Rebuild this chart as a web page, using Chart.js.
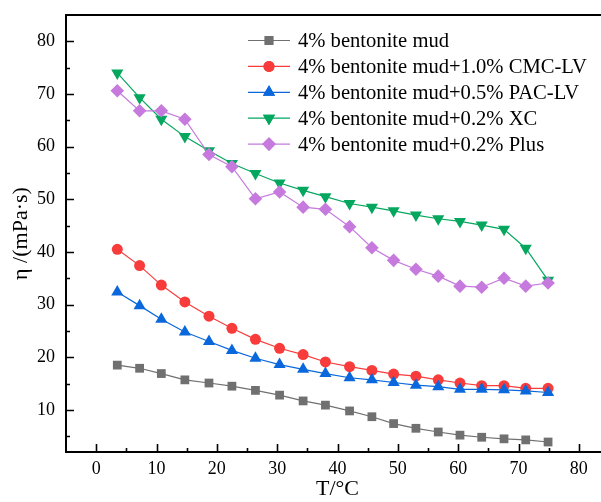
<!DOCTYPE html>
<html>
<head>
<meta charset="utf-8">
<title>Viscosity vs temperature</title>
<script src="https://cdn.jsdelivr.net/npm/chart.js@4.4.1/dist/chart.umd.min.js"></script>
<style>
  html, body { margin: 0; padding: 0; background: #fff; overflow: hidden; }
  #wrap { width: 616px; height: 502px; }
</style>
</head>
<body>
<div id="wrap"><canvas id="viscChart" width="616" height="502"></canvas></div>
<script>
// temperature, °C
const temps = [3.5, 7.2, 10.8, 14.7, 18.7, 22.5, 26.4, 30.4, 34.3, 38.0, 42.0, 45.7, 49.3, 53.0, 56.7, 60.3, 63.9, 67.6, 71.2, 74.9];

// apparent viscosity, mPa·s
const baseMud = [18.5, 17.9, 16.9, 15.7, 15.1, 14.5, 13.7, 12.8, 11.7, 10.9, 9.8, 8.7, 7.4, 6.5, 5.8, 5.2, 4.8, 4.5, 4.3, 3.9];
const cmcMud = [40.5, 37.4, 33.7, 30.5, 27.8, 25.5, 23.4, 21.7, 20.5, 19.1, 18.2, 17.5, 16.8, 16.4, 15.7, 15.1, 14.6, 14.6, 14.1, 14.1];
const pacMud = [32.4, 29.8, 27.2, 24.8, 23.0, 21.3, 19.8, 18.6, 17.7, 16.9, 16.1, 15.7, 15.2, 14.7, 14.4, 13.9, 13.9, 13.8, 13.6, 13.3];
const xcMud = [74.0, 69.3, 65.2, 61.9, 59.2, 56.8, 54.9, 53.1, 51.7, 50.5, 49.2, 48.5, 47.8, 47.0, 46.3, 45.8, 45.1, 44.3, 40.7, 34.6];
const plusMud = [70.6, 66.8, 66.8, 65.2, 58.5, 56.2, 50.1, 51.4, 48.5, 48.1, 44.8, 40.8, 38.4, 36.7, 35.4, 33.5, 33.3, 35.0, 33.5, 34.1];

const seriesNames = [
  '4% bentonite mud',
  '4% bentonite mud+1.0% CMC-LV',
  '4% bentonite mud+0.5% PAC-LV',
  '4% bentonite mud+0.2% XC',
  '4% bentonite mud+0.2% Plus'
];

const xTicks = [0, 10, 20, 30, 40, 50, 60, 70, 80];
const yTicks = [10, 20, 30, 40, 50, 60, 70, 80];

const FONT = "'Liberation Serif', 'Times New Roman', serif";

function makeSeries(label, values, color, shape, radius, rotation, order) {
  return {
    label: label,
    data: temps.map((t, i) => ({ x: t, y: values[i] })),
    borderColor: color,
    backgroundColor: color,
    borderWidth: 1.2,
    pointStyle: shape,
    pointRadius: radius,
    pointRotation: rotation,
    pointBorderWidth: 0,
    pointBackgroundColor: color,
    tension: 0,
    order: order
  };
}

const datasets = [
  makeSeries(seriesNames[0], baseMud, '#707070', 'rect', 6.2, 0, 5),
  makeSeries(seriesNames[1], cmcMud, '#f83c3c', 'circle', 5.5, 0, 4),
  makeSeries(seriesNames[2], pacMud, '#0a68dc', 'triangle', 7, 0, 3),
  makeSeries(seriesNames[3], xcMud, '#05a65e', 'triangle', 7, 180, 2),
  makeSeries(seriesNames[4], plusMud, '#c67ade', 'rectRot', 6.8, 0, 1)
];

// box frame with inward major/minor ticks
const frameTicks = {
  id: 'frameTicks',
  afterDraw(chart) {
    const { ctx, chartArea: a, scales: { x, y } } = chart;
    ctx.save();
    ctx.strokeStyle = '#000';
    ctx.lineWidth = 2;
    ctx.beginPath();
    ctx.moveTo(a.right, a.top);
    ctx.lineTo(a.left, a.top);
    ctx.lineTo(a.left, a.bottom);
    ctx.lineTo(a.right, a.bottom);
    ctx.stroke();

    ctx.lineWidth = 1.6;
    ctx.beginPath();
    for (let v = x.min + 5; v < x.max; v += 5) {
      const px = Math.round(x.getPixelForValue(v)) + 0.5;
      const len = v % 10 === 0 ? 8 : 4;
      ctx.moveTo(px, a.bottom);
      ctx.lineTo(px, a.bottom - len);
    }
    for (let v = 5; v < y.max; v += 5) {
      const py = Math.round(y.getPixelForValue(v)) + 0.5;
      const len = v % 10 === 0 ? 8 : 4;
      ctx.moveTo(a.left, py);
      ctx.lineTo(a.left + len, py);
    }
    ctx.stroke();
    ctx.restore();
  }
};

// legend block in the upper right of the plot
const boxLegend = {
  id: 'boxLegend',
  afterDraw(chart) {
    const { ctx } = chart;
    const x0 = 248, x1 = 290, tx = 298, top = 40.5, step = 25.9;
    ctx.save();
    ctx.font = '20.6px ' + FONT;
    ctx.textBaseline = 'middle';
    ctx.fillStyle = '#000';
    chart.data.datasets.forEach((ds, i) => {
      const yy = top + i * step;
      ctx.strokeStyle = ds.borderColor;
      ctx.lineWidth = 1.2;
      ctx.beginPath();
      ctx.moveTo(x0, yy);
      ctx.lineTo(x1, yy);
      ctx.stroke();
      ctx.fillStyle = ds.pointBackgroundColor;
      Chart.helpers.drawPoint(ctx, {
        pointStyle: ds.pointStyle,
        radius: ds.pointRadius,
        rotation: ds.pointRotation,
        borderWidth: 0
      }, (x0 + x1) / 2, yy);
      ctx.fill();
      ctx.fillStyle = '#000';
      ctx.fillText(ds.label, tx, yy + 1);
    });
    ctx.restore();
  }
};

new Chart(document.getElementById('viscChart'), {
  type: 'line',
  data: { datasets: datasets },
  options: {
    responsive: false,
    animation: false,
    devicePixelRatio: 1,
    layout: { padding: { top: 15, right: 0, left: 0, bottom: 0 } },
    plugins: {
      legend: { display: false },
      tooltip: { enabled: false }
    },
    scales: {
      x: {
        type: 'linear',
        min: -5,
        max: 85,
        afterFit(scale) {
          scale.height = 50;
          scale.paddingLeft = 0;
          scale.paddingRight = 0;
        },
        afterBuildTicks(scale) { scale.ticks = xTicks.map(v => ({ value: v })); },
        grid: { display: false, drawTicks: false },
        border: { display: false },
        ticks: {
          font: { family: FONT, size: 18 },
          color: '#000',
          padding: 6,
          maxRotation: 0
        },
        title: {
          display: true,
          text: 'T/°C',
          font: { family: FONT, size: 22 },
          color: '#000',
          padding: { top: 0, bottom: 0 }
        }
      },
      y: {
        type: 'linear',
        min: 2,
        max: 85,
        afterFit(scale) {
          scale.width = 66;
          scale.paddingTop = 0;
          scale.paddingBottom = 0;
        },
        afterBuildTicks(scale) { scale.ticks = yTicks.map(v => ({ value: v })); },
        grid: { display: false, drawTicks: false },
        border: { display: false },
        ticks: {
          font: { family: FONT, size: 18 },
          color: '#000',
          padding: 11
        },
        title: {
          display: true,
          text: 'η /(mPa·s)',
          font: { family: FONT, size: 22 },
          color: '#000',
          padding: { top: 8, bottom: 0 }
        }
      }
    }
  },
  plugins: [frameTicks, boxLegend]
});
</script>
</body>
</html>
